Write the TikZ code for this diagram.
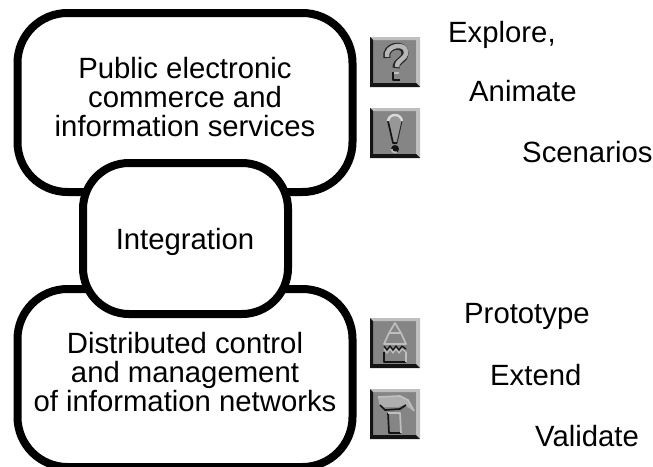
\documentclass[tikz,border=0pt]{standalone}
\usepackage{fontspec}
\setmainfont{Liberation Sans}
\definecolor{iconbase}{gray}{0.52}
\definecolor{iconlight}{gray}{0.75}
\definecolor{icondark}{gray}{0.08}
\tikzset{
  x=1pt,y=-1pt,
  bubble/.style={draw=black,line width=8pt,fill=white,rounded corners=#1,inner sep=0pt},
  lab/.style={font=\fontsize{29.3}{29}\selectfont,align=center,inner sep=0pt,text=black},
  side/.style={font=\fontsize{29.3}{29}\selectfont,anchor=base west,inner sep=0pt,text=black},
  dk/.style={draw=icondark,line width=1.7pt,line join=round},
  lt/.style={draw=iconlight,line width=1.7pt,line join=round},
}
\newcommand{\iconbox}{%
  \fill[iconbase] (0,0) rectangle (50,50);
  \fill[iconlight] (0,0) -- (50,0) -- (50,50) -- (46,46) -- (46,3) -- (3,3) -- cycle;
  \fill[icondark] (0,0) -- (3,3) -- (3,46) -- (46,46) -- (50,50) -- (0,50) -- cycle;
}
\begin{document}
\begin{tikzpicture}
\path[clip,use as bounding box] (0,0) rectangle (653,466);
\draw[bubble=50pt] (17.5,13) rectangle (352.5,192);
\draw[bubble=50pt] (17.5,289) rectangle (352.5,467);
\draw[bubble=46pt] (83,163) rectangle (288,314);
\node[lab] (pub) at (185,97.5) {Public electronic\\commerce and\\information services};
\node[lab,anchor=base] (int) at (185,249) {Integration};
\node[lab] (dist) at (185,372.5) {Distributed control\\and management\\of information networks};
\node[side] (t1) at (448,42.7) {Explore,};
\node[side] (t2) at (469,101.7) {Animate};
\node[side] (t3) at (522,162.3) {Scenarios};
\node[side] (t4) at (464,323) {Prototype};
\node[side] (t5) at (490,385.7) {Extend};
\node[side] (t6) at (535,446) {Validate};
% question mark
\begin{scope}[shift={(370,37)}]
  \iconbox
  \draw[line width=7pt,draw=icondark!85!iconbase] (17,21) .. controls (14,8) and (35,5) .. (35,16) .. controls (35,24) and (26,23) .. (26,31);
  \draw[line width=4.5pt,draw=iconlight!85!iconbase] (17,20) .. controls (15,8) and (36,5) .. (36,15) .. controls (36,23) and (27,22) .. (27,30);
  \fill[iconlight] (22,35) rectangle (29,43);
  \fill[iconbase] (24,37) rectangle (29,43);
  \draw[dk] (23,35) -- (23,43) -- (30,43);
\end{scope}
% exclamation mark
\begin{scope}[shift={(370,108)}]
  \iconbox
  \path[fill=iconbase!85!white] (18,13) .. controls (19,5) and (31,5) .. (32,13) -- (27,35) -- (23,35) -- cycle;
  \draw[dk] (18,13) -- (23,35) -- (27,35);
  \draw[draw=icondark!80!iconbase,line width=1pt] (32,13) -- (27,35);
  \draw[line width=2.4pt,draw=white!85!black] (18,13) .. controls (19,5) and (31,5) .. (32,13);
  \fill[icondark] (25,41) circle (4pt);
  \draw[lt] (21.5,41) arc (180:300:3.5pt);
\end{scope}
% pencil
\begin{scope}[shift={(370,318)}]
  \iconbox
  \draw[lt] (19,15) -- (25,5) -- (31,15) -- cycle;
  \draw[lt] (19,15) -- (14,26) -- (36,26) -- (31,15);
  \draw[dk,line width=1.3pt] (14,28) -- (17,32) -- (20,28) -- (23,32) -- (26,28) -- (29,32) -- (32,28) -- (36,31);
  \draw[lt,line width=1.3pt] (14,31) -- (17,35) -- (20,31) -- (23,35) -- (26,31) -- (29,35) -- (32,31) -- (36,34);
  \draw[dk] (14,34) -- (14,44) -- (36,44);
  \draw[lt] (36,34) -- (36,44);
\end{scope}
% hammer
\begin{scope}[shift={(370,389)}]
  \iconbox
  \path[fill=iconlight!70!iconbase] (8,8) -- (30,7) -- (38,11) -- (44,22) -- (34,16) -- (28,18) -- (14,18) -- (9,15) -- cycle;
  \draw[lt] (8,8) -- (30,7) -- (38,11) -- (44,22);
  \draw[dk] (10,16) -- (15,21) -- (30,20) -- (36,16);
  \draw[dk] (18,24) -- (19,44) -- (31,44);
  \draw[lt] (18,24) -- (30,24) -- (31,44);
\end{scope}
\end{tikzpicture}
\end{document}
